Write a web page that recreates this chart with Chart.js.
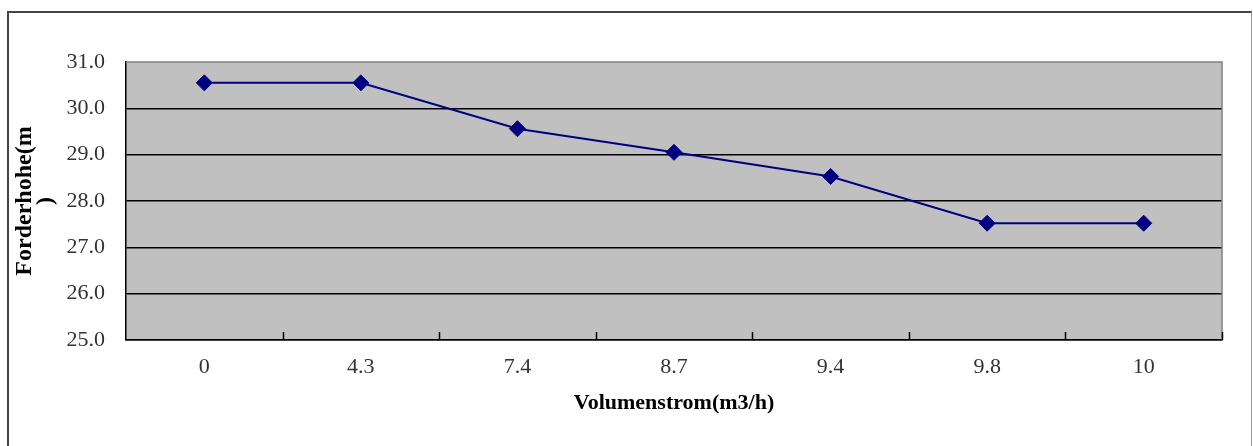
<!DOCTYPE html>
<html>
<head>
<meta charset="utf-8">
<script src="https://cdn.jsdelivr.net/npm/chart.js@4/dist/chart.umd.min.js"></script>
<style>
  html, body { margin: 0; padding: 0; background: #fff; overflow: hidden; }
  #frame { position: absolute; left: 7px; top: 11px; width: 1245px; height: 500px;
           box-sizing: border-box; border-left: 2px solid #444; border-top: 2px solid #444;
           border-right: 1px solid #999; z-index: 0; }
  #wrap { position: absolute; left: 0; top: 0; width: 1253px; height: 446px; z-index: 1; }
</style>
</head>
<body>
<div id="frame"></div>
<div id="wrap"><canvas id="c" width="1253" height="446"></canvas></div>
<script>
const categories = ['0', '4.3', '7.4', '8.7', '9.4', '9.8', '10'];
const foerderhoehe = [30.55, 30.55, 29.56, 29.05, 28.53, 27.52, 27.52];
const yMin = 25;
const yMax = 31;
const yStep = 1;
const xTitle = 'Volumenstrom(m3/h)';
const yTitle = ['Forderhohe(m', ')'];

const plotFrame = {
  id: 'plotFrame',
  beforeDraw(chart) {
    const a = chart.chartArea, ctx = chart.ctx;
    ctx.save();
    ctx.fillStyle = '#c0c0c0';
    ctx.fillRect(a.left, a.top, a.right - a.left, a.bottom - a.top);
    ctx.restore();
  },
  afterDraw(chart) {
    const a = chart.chartArea, ctx = chart.ctx;
    const xs = chart.scales.x;
    ctx.save();
    ctx.strokeStyle = '#808080';
    ctx.lineWidth = 1.5;
    ctx.beginPath();
    ctx.moveTo(a.left, a.top);
    ctx.lineTo(a.right, a.top);
    ctx.lineTo(a.right, a.bottom);
    ctx.stroke();
    // category boundary tick marks (inside)
    ctx.strokeStyle = '#000';
    ctx.lineWidth = 1.5;
    const n = categories.length;
    const w = (xs.right - xs.left) / n;
    ctx.beginPath();
    for (let i = 1; i <= n; i++) {
      const x = Math.round(xs.left + i * w) + 0.5;
      ctx.moveTo(x, a.bottom);
      ctx.lineTo(x, a.bottom - 8);
    }
    ctx.stroke();
    ctx.restore();
  }
};

new Chart(document.getElementById('c'), {
  type: 'line',
  data: {
    labels: categories,
    datasets: [{
      data: foerderhoehe,
      borderColor: '#000080',
      backgroundColor: '#000080',
      borderWidth: 2,
      pointStyle: 'rectRot',
      pointRadius: 8,
      pointBorderWidth: 1,
      pointBackgroundColor: '#000080',
      pointBorderColor: '#000080',
      tension: 0,
      fill: false
    }]
  },
  options: {
    responsive: false,
    animation: false,
    layout: { padding: { left: 10, top: 62, right: 31, bottom: 0 } },
    plugins: { legend: { display: false }, tooltip: { enabled: false } },
    scales: {
      x: {
        offset: true,
        grid: { display: false, drawTicks: false },
        border: { display: true, color: '#000', width: 1.5 },
        ticks: { color: '#333', padding: 14, font: { family: 'Liberation Serif', size: 22 }, maxRotation: 0 },
        title: { display: true, text: xTitle, color: '#000',
                 font: { family: 'Liberation Serif', size: 22, weight: 'bold' },
                 padding: { top: 0, bottom: 29 } },
        afterFit(s) { s.height = 106; }
      },
      y: {
        min: yMin, max: yMax,
        grid: {
          drawTicks: false,
          color: (c) => (c.tick && c.tick.value === yMax) ? 'rgba(0,0,0,0)' : '#000',
          lineWidth: 1.5
        },
        border: { display: true, color: '#000', width: 1.5 },
        ticks: { stepSize: yStep, color: '#333', padding: 21,
                 font: { family: 'Liberation Serif', size: 22 },
                 callback: (v) => Number(v).toFixed(1) },
        title: { display: true, text: yTitle, color: '#000',
                 font: { family: 'Liberation Serif', size: 24, weight: 'bold', lineHeight: 0.85 },
                 padding: { top: 5, bottom: 0 } },
        afterFit(s) { s.width = 116; }
      }
    }
  },
  plugins: [plotFrame]
});
</script>
</body>
</html>
